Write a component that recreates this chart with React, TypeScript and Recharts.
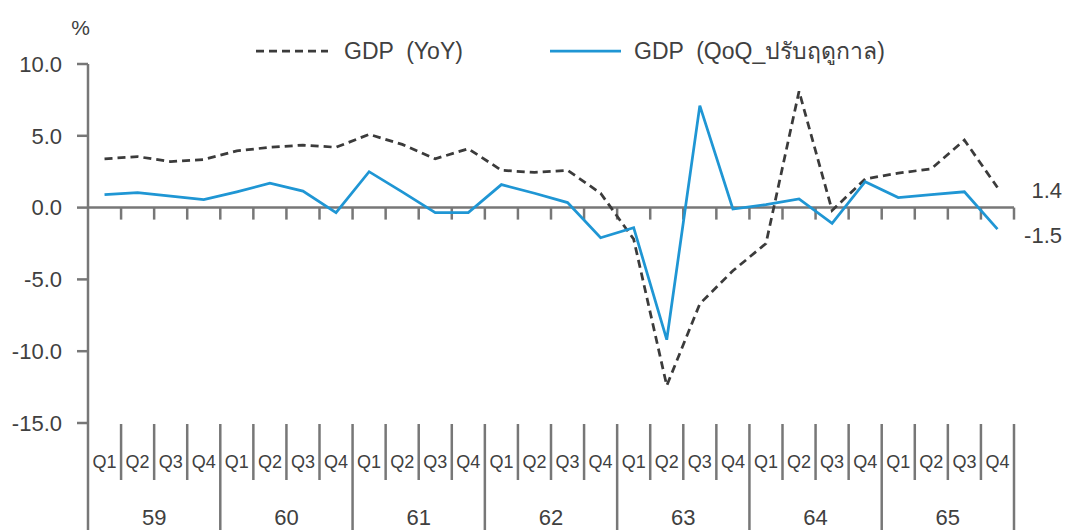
import React from "react";
import { LineChart, Line, XAxis, YAxis, ReferenceLine, LabelList } from "recharts";

const YEARS = ["59", "60", "61", "62", "63", "64", "65"];
const QUARTERS = ["Q1", "Q2", "Q3", "Q4"];
const Y_TICKS = [-15, -10, -5, 0, 5, 10];

// GDP YoY (%), 59Q1 .. 65Q4
const GDP_YOY = [
  3.4, 3.55, 3.2, 3.35, 3.95, 4.2, 4.35, 4.2, 5.1, 4.4, 3.4, 4.1, 2.6, 2.45,
  2.6, 1.0, -2.2, -12.4, -6.7, -4.4, -2.5, 8.1, -0.2, 2.0, 2.4, 2.7, 4.7, 1.4,
];
// GDP QoQ seasonally adjusted (%)
const GDP_QOQ = [
  0.9, 1.05, 0.8, 0.55, 1.1, 1.7, 1.15, -0.35, 2.5, 1.1, -0.35, -0.35, 1.6,
  1.0, 0.35, -2.1, -1.4, -9.2, 7.1, -0.1, 0.2, 0.6, -1.1, 1.8, 0.7, 0.9, 1.1,
  -1.5,
];

const data = YEARS.flatMap((year, yi) =>
  QUARTERS.map((q, qi) => ({
    key: `${year}${q}`,
    year,
    q,
    yoy: GDP_YOY[yi * 4 + qi],
    qoq: GDP_QOQ[yi * 4 + qi],
  }))
);

const CHART_W = 1065;
const CHART_H = 530;
const Y_AXIS_W = 88;
const RIGHT = 51;
const BAND = (CHART_W - Y_AXIS_W - RIGHT) / data.length;

const AXIS = "#777777";
const TEXT = "#404040";
const DARK = "#3b3b3b";
const BLUE = "#1f96d4";
const FONT = '"Liberation Sans", Arial, sans-serif';

function CategoryTick(props: any) {
  const { x, y, index } = props;
  const row = data[index];
  if (!row) return null;
  const left = x - BAND / 2;
  const right = x + BAND / 2;
  const yearEnd = index % 4 === 3;
  return (
    <g>
      {index === 0 && (
        <line x1={left} x2={left} y1={y} y2={CHART_H} stroke={AXIS} strokeWidth={2.5} />
      )}
      <line
        x1={right}
        x2={right}
        y1={y + 1}
        y2={yearEnd ? CHART_H : y + 57}
        stroke={AXIS}
        strokeWidth={2.5}
      />
      <text x={x} y={y + 45} textAnchor="middle" fontSize={18} fill={TEXT} fontFamily={FONT}>
        {row.q}
      </text>
      {index % 4 === 1 && (
        <text x={right} y={y + 102} textAnchor="middle" fontSize={22} fill={TEXT} fontFamily={FONT}>
          {row.year}
        </text>
      )}
    </g>
  );
}

function ZeroAxis(props: any) {
  const y0 = props.y1;
  const l = Y_AXIS_W;
  const r = CHART_W - RIGHT;
  return (
    <g>
      <line x1={l} x2={r} y1={y0} y2={y0} stroke={AXIS} strokeWidth={2.5} />
      {data.map((_, k) => (
        <line
          key={k}
          x1={l + (k + 1) * BAND}
          x2={l + (k + 1) * BAND}
          y1={y0}
          y2={y0 + 12}
          stroke={AXIS}
          strokeWidth={2.5}
        />
      ))}
    </g>
  );
}

function endLabel(dy: number) {
  return (props: any) => {
    if (props.index !== data.length - 1) return null;
    return (
      <text
        x={CHART_W - 3}
        y={props.y + dy}
        textAnchor="end"
        fontSize={22}
        fill={TEXT}
        fontFamily={FONT}
      >
        {Number(props.value).toFixed(1)}
      </text>
    );
  };
}

export default function App() {
  return (
    <div
      style={{
        position: "absolute",
        left: 0,
        top: 0,
        width: CHART_W,
        height: CHART_H,
        background: "#fff",
        fontFamily: FONT,
      }}
    >
      <LineChart
        width={CHART_W}
        height={CHART_H}
        data={data}
        margin={{ top: 64, right: RIGHT, bottom: 0, left: 0 }}
      >
        <XAxis
          dataKey="key"
          interval={0}
          height={107}
          padding={{ left: BAND / 2, right: BAND / 2 }}
          axisLine={false}
          tickLine={false}
          tickSize={0}
          tickMargin={0}
          tick={(p: any) => <CategoryTick {...p} />}
        />
        <YAxis
          type="number"
          width={Y_AXIS_W}
          domain={[-15, 10]}
          ticks={Y_TICKS}
          interval={0}
          allowDataOverflow
          tickFormatter={(v: number) => v.toFixed(1)}
          axisLine={{ stroke: AXIS, strokeWidth: 2.5 }}
          tickLine={{ stroke: AXIS, strokeWidth: 2.5 }}
          tickSize={11}
          tickMargin={15}
          tick={{ fill: TEXT, fontSize: 22, fontFamily: FONT }}
        />
        <ReferenceLine y={0} shape={(p: any) => <ZeroAxis {...p} />} />
        <Line
          type="linear"
          dataKey="yoy"
          stroke={DARK}
          strokeWidth={2.75}
          strokeDasharray="8 5"
          dot={false}
          activeDot={false}
          isAnimationActive={false}
        >
          <LabelList dataKey="yoy" content={endLabel(11)} />
        </Line>
        <Line
          type="linear"
          dataKey="qoq"
          stroke={BLUE}
          strokeWidth={2.75}
          dot={false}
          activeDot={false}
          isAnimationActive={false}
        >
          <LabelList dataKey="qoq" content={endLabel(14)} />
        </Line>
      </LineChart>
      <svg
        width={CHART_W}
        height={80}
        style={{ position: "absolute", left: 0, top: 0, pointerEvents: "none" }}
      >
        <text x={80.5} y={35} textAnchor="middle" fontSize={21} fill={TEXT} fontFamily={FONT}>
          %
        </text>
        <line x1={256} x2={328} y1={51} y2={51} stroke={DARK} strokeWidth={2.75} strokeDasharray="8 5" />
        <text x={344} y={59} fontSize={23} fill={TEXT} fontFamily={FONT} style={{ whiteSpace: "pre" }}>
          {"GDP  (YoY)"}
        </text>
        <line x1={550} x2={621} y1={51} y2={51} stroke={BLUE} strokeWidth={2.75} />
        <text x={634} y={59} fontSize={23} fill={TEXT} fontFamily={FONT} style={{ whiteSpace: "pre" }}>
          {"GDP  (QoQ_ปรับฤดูกาล)"}
        </text>
      </svg>
    </div>
  );
}
